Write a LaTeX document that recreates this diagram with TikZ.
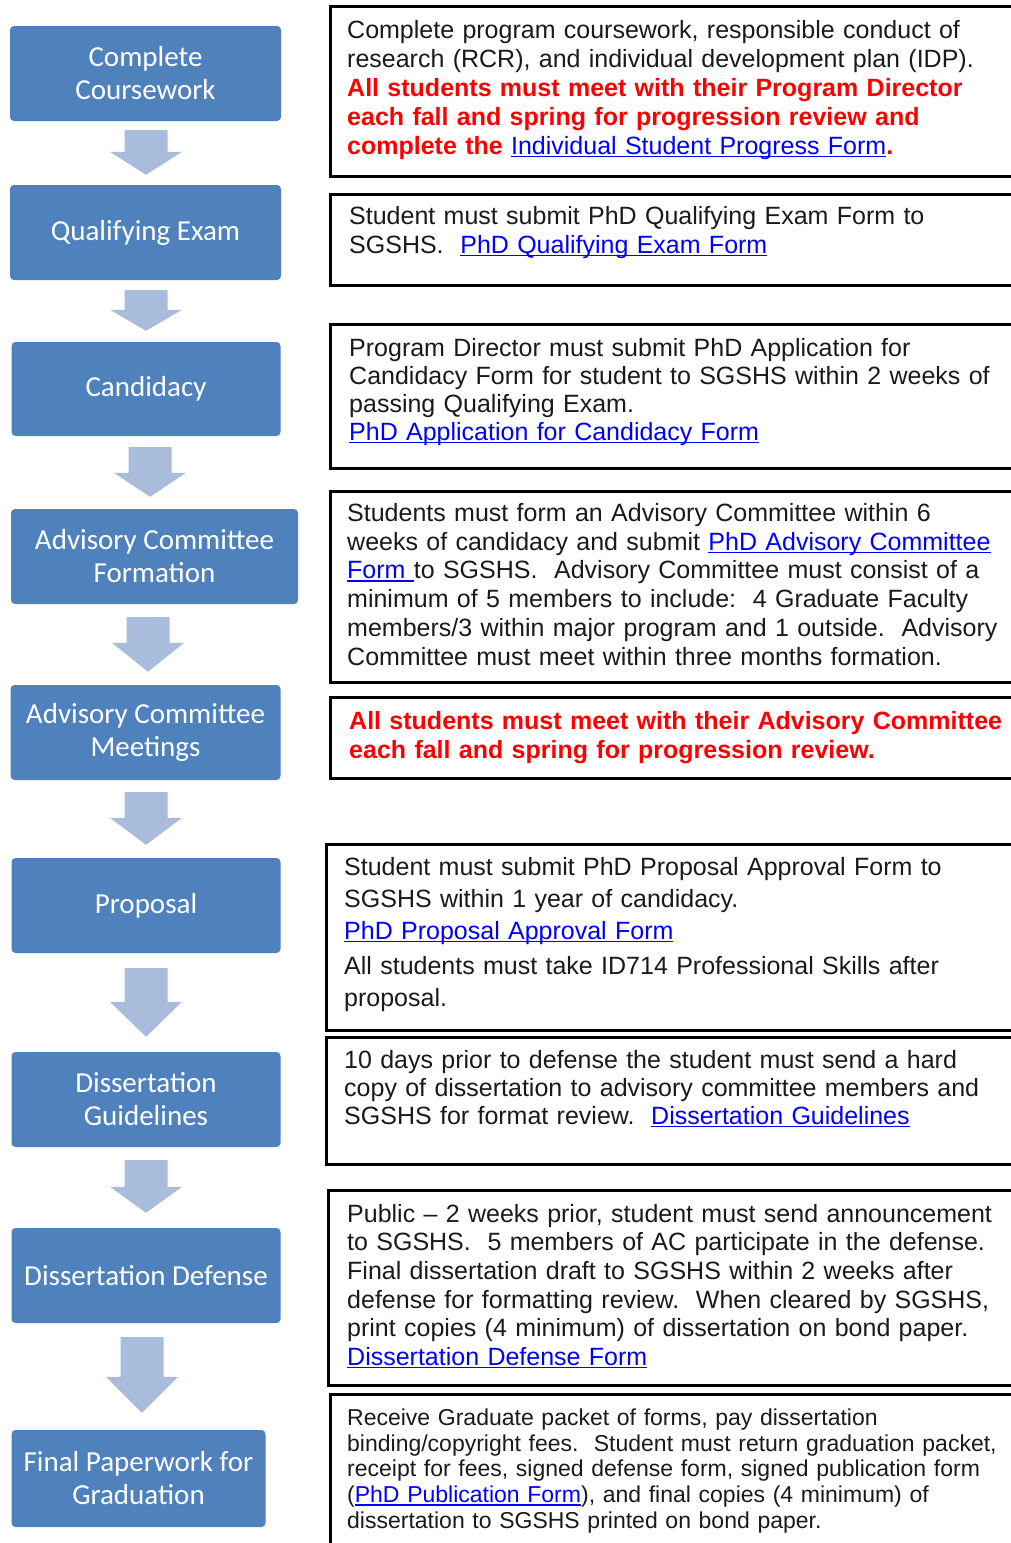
\documentclass[tikz,border=0pt]{standalone}
\usepackage{fontspec}
\setmainfont{Liberation Sans}
\newfontfamily\calibrifont{Carlito}
\usetikzlibrary{calc}
\definecolor{boxblue}{HTML}{4F81BD}
\definecolor{arrowblue}{HTML}{A9BCDB}
\definecolor{linkblue}{HTML}{0000FF}
\definecolor{alertred}{HTML}{FF0000}
\definecolor{bodytext}{HTML}{1A1A1A}
\setlength\parindent{0pt}
\newsavebox\lnkbox
\newcommand\lnk[1]{\leavevmode{\mdseries\color{linkblue}\sbox\lnkbox{#1}\rlap{\rule[-0.13em]{\wd\lnkbox}{0.07em}}\usebox\lnkbox}}
\newcommand\firststrut{\rule{0pt}{0.8em}}
% arrow: from node, to node, centre x, top gap, tip gap, head length
\newcommand\flowarrow[6]{%
  \fill[arrowblue] let \p1=(#1.south), \p2=(#2.north) in
    ({#3-21.5}, \y1-#4pt) -- ({#3+21.5}, \y1-#4pt) -- ({#3+21.5}, \y2+#5pt+#6pt)
    -- ({#3+36}, \y2+#5pt+#6pt) -- (#3, \y2+#5pt) -- ({#3-36}, \y2+#5pt+#6pt)
    -- ({#3-21.5}, \y2+#5pt+#6pt) -- cycle;}
\begin{document}
\begin{tikzpicture}[x=1pt, y=-1pt,
  lbox/.style={rectangle, rounded corners=4pt, fill=boxblue, text=white,
    font=\calibrifont\fontsize{29}{33}\selectfont, align=center, inner sep=0},
  rbox/.style={rectangle, draw=black, line width=3pt, anchor=north west, inner sep=0,
    minimum width=720},
  txt/.style={anchor=north west, inner sep=0, text width=690, align=left, text=bodytext,
    font=\fontsize{25}{29}\selectfont},
  redtxt/.style={text=alertred, font=\bfseries\fontsize{25}{29}\selectfont}
]
\useasboundingbox (0,0) rectangle (1011,1543);
\clip (0,0) rectangle (1011,1543);
\fill[white] (0,0) rectangle (1011,1543);

% left boxes
\node[lbox, minimum width=271, minimum height=95] (L1) at (145.5,73.5) {Complete\\Coursework};
\node[lbox, minimum width=271, minimum height=95] (L2) at (145.5,232.5) {Qualifying Exam};
\node[lbox, minimum width=269, minimum height=94] (L3) at (146,389) {Candidacy};
\node[lbox, minimum width=287, minimum height=95] (L4) at (154.5,556.5) {Advisory Committee\\Formation};
\node[lbox, minimum width=270, minimum height=95] (L5) at (145.5,732.5) {Advisory Committee\\Meetings};
\node[lbox, minimum width=269, minimum height=95] (L6) at (146,905.5) {Proposal};
\node[lbox, minimum width=269, minimum height=95] (L7) at (146,1099.5) {Dissertation\\Guidelines};
\node[lbox, minimum width=269, minimum height=95] (L8) at (146,1275.5) {Dissertation Defense};
\node[lbox, minimum width=254, minimum height=97] (L9) at (138.5,1478.5) {Final Paperwork for\\Graduation};

% arrows
\flowarrow{L1}{L2}{146}{9}{10}{23}
\flowarrow{L2}{L3}{146}{10}{11}{21}
\flowarrow{L3}{L4}{150}{11}{12}{24}
\flowarrow{L4}{L5}{148}{13}{13}{29}
\flowarrow{L5}{L6}{146}{12}{13}{27}
\flowarrow{L6}{L7}{146}{15}{15}{35}
\flowarrow{L7}{L8}{146}{13}{15}{26}
\flowarrow{L8}{L9}{142}{14}{17}{36}

% right boxes
\node[rbox, minimum height=170] (R1) at (329,5) {};
\node[rbox, minimum height=91] (R2) at (329,193) {};
\node[rbox, minimum height=144] (R3) at (329,323) {};
\node[rbox, minimum height=191] (R4) at (329,490) {};
\node[rbox, minimum height=81] (R5) at (329,696) {};
\node[rbox, minimum height=186] (R6) at (325,843) {};
\node[rbox, minimum height=127] (R7) at (325,1036) {};
\node[rbox, minimum height=195] (R8) at (327,1189) {};
\node[rbox, minimum height=180] (R9) at (329,1393) {};

% texts
\node[txt] (T1) at (347,18) {\firststrut Complete program coursework, responsible conduct of\\
research (RCR), and individual development plan (IDP).\\
{\color{alertred}\bfseries All students must meet with their Program Director\\
each fall and spring for progression review and\\
complete the \lnk{Individual Student Progress Form}.}};

\node[txt] (T2) at (349,204) {\firststrut Student must submit PhD Qualifying Exam Form to\\
SGSHS.\ \ \lnk{PhD Qualifying Exam Form}};

\node[txt, font=\fontsize{25}{28}\selectfont] (T3) at (349,336) {\firststrut Program Director must submit PhD Application for\\
Candidacy Form for student to SGSHS within 2 weeks of\\
passing Qualifying Exam.\\
\lnk{PhD Application for Candidacy Form}};

\node[txt, font=\fontsize{25}{28.8}\selectfont] (T4) at (347,501) {\firststrut Students must form an Advisory Committee within 6\\
weeks of candidacy and submit \lnk{PhD Advisory Committee}\\
\lnk{Form }to SGSHS.\ \ Advisory Committee must consist of a\\
minimum of 5 members to include:\ \ 4 Graduate Faculty\\
members/3 within major program and 1 outside.\ \ Advisory\\
Committee must meet within three months formation.};

\node[txt, redtxt] (T5) at (349,709) {\firststrut All students must meet with their Advisory Committee\\
each fall and spring for progression review.};

\node[txt, font=\fontsize{25}{32}\selectfont] (T6) at (344,855) {\firststrut Student must submit PhD Proposal Approval Form to\\
SGSHS within 1 year of candidacy.\\
\lnk{PhD Proposal Approval Form}\\[3pt]
All students must take ID714 Professional Skills after\\
proposal.};

\node[txt, font=\fontsize{25}{28}\selectfont] (T7) at (344,1048) {\firststrut 10 days prior to defense the student must send a hard\\
copy of dissertation to advisory committee members and\\
SGSHS for format review.\ \ \lnk{Dissertation Guidelines}};

\node[txt, font=\fontsize{25}{28.6}\selectfont] (T8) at (347,1202) {\firststrut Public – 2 weeks prior, student must send announcement\\
to SGSHS.\ \ 5 members of AC participate in the defense.\\
Final dissertation draft to SGSHS within 2 weeks after\\
defense for formatting review.\ \ When cleared by SGSHS,\\
print copies (4 minimum) of dissertation on bond paper.\\
\lnk{Dissertation Defense Form}};

\node[txt, font=\fontsize{23}{25.8}\selectfont] (T9) at (347,1406.6) {\firststrut Receive Graduate packet of forms, pay dissertation\\
binding/copyright fees.\ \ Student must return graduation packet,\\
receipt for fees, signed defense form, signed publication form\\
(\lnk{PhD Publication Form}), and final copies (4 minimum) of\\
dissertation to SGSHS printed on bond paper.};
\end{tikzpicture}
\end{document}
